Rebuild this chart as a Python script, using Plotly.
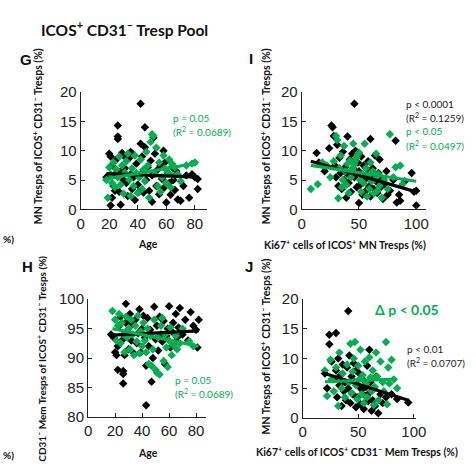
import plotly.graph_objects as go

W, H = 476, 471
GREEN = "#00b050"
BLACK = "#000000"

# ---------------- data ----------------
# Panel G: Age vs MN Tresps of ICOS+ CD31- Tresps (%)
g_black_x = [18,20,21,22,23,24,25,26,26,26,27,28,28,29,30,31,32,33,34,35,36,37,38,39,40,41,42,42,43,44,44,45,45,46,47,48,49,50,50,51,52,53,54,55,56,57,58,58,59,60,61,62,63,64,65,66,67,68,70,72,74,76,78,80,82,82,35,30,24,22,21]
g_black_y = [5.5,9.5,9.0,7.5,4.0,6.0,8.5,14.3,12.4,12.0,3.0,0.8,6.5,9.6,5.0,7.0,4.5,2.3,8.7,6.0,3.5,5.5,1.6,7.8,4.2,3.0,18.0,11.2,9.0,6.5,2.9,14.0,10.6,5.0,7.2,3.2,8.3,1.3,5.8,12.2,9.5,4.0,6.8,2.6,7.5,5.2,3.6,10.0,8.0,1.2,6.2,4.5,2.5,7.2,5.0,3.3,6.5,1.7,1.5,4.0,5.8,2.0,6.0,5.5,3.5,5.2,9.8,9.2,3.2,2.0,0.7]
g_green_x = [18,19,20,21,22,23,24,25,26,27,28,29,30,31,32,33,34,35,36,37,38,39,40,41,42,43,44,45,46,47,48,49,50,51,52,53,54,55,56,57,58,59,60,61,62,63,64,65,66,68,70,74,78,80]
g_green_y = [5.0,2.0,7.2,6.0,4.5,8.0,3.8,6.8,5.5,9.0,4.2,7.5,2.7,6.3,8.2,9.5,5.0,2.3,7.0,4.0,9.2,6.2,2.8,5.5,8.5,3.5,6.8,4.8,9.8,7.5,2.0,11.5,12.8,12.5,6.0,10.5,4.0,8.0,3.0,5.5,9.2,7.0,4.5,6.3,8.5,3.8,7.8,5.8,7.2,6.0,4.8,7.5,7.8,8.0]
g_fit_x = [18, 82]
g_fit_black_y = [6.1, 5.5]
g_fit_green_y = [5.2, 7.9]

# Panel I: Ki67+ cells of ICOS+ MN Tresps (%) vs MN Tresps (%)
i_black_x = [13,15,20,24,26,27,28,29,30,31,32,33,34,35,36,37,38,39,40,40,41,42,43,44,45,46,46,47,48,49,50,50,51,52,53,54,55,56,57,58,59,60,60,61,62,63,64,65,66,67,68,69,70,71,72,74,75,77,80,82,83,85,86,90,96,100,100,98]
i_black_y = [9.6,8.0,6.5,10.4,14.3,14.0,12.5,7.5,5.5,11.0,4.0,8.8,6.2,3.5,9.8,5.0,7.2,2.0,12.4,6.0,4.5,8.5,3.0,9.5,7.0,18.0,5.5,10.0,3.8,8.0,1.1,6.5,4.2,9.0,2.5,7.5,5.0,3.2,6.8,8.2,4.0,12.0,2.2,5.8,7.0,3.5,9.2,4.8,2.8,6.2,8.5,3.8,5.2,1.8,4.3,6.5,2.5,3.2,5.0,11.7,1.2,2.5,1.5,4.8,6.2,3.2,0.7,3.0]
i_green_x = [8,14,18,22,25,28,30,31,32,33,34,35,36,37,38,39,40,41,42,43,44,45,45,46,47,48,49,50,51,52,53,54,55,56,57,58,59,60,61,62,63,64,65,66,67,68,70,72,75,77,80,82,86,88]
i_green_y = [3.5,4.3,8.0,7.5,5.5,8.2,12.5,11.8,1.9,7.0,9.2,3.8,5.0,10.8,6.5,4.2,7.8,2.8,8.3,5.5,6.8,11.2,7.2,7.8,8.3,8.8,9.3,9.7,5.0,3.0,6.0,4.5,11.2,7.0,2.2,5.8,3.5,8.0,4.8,6.5,2.7,5.2,9.5,3.2,6.0,4.0,2.0,5.0,3.5,12.8,5.5,7.2,7.5,4.3]
i_fit_x = [8, 100]
i_fit_black_y = [8.2, 3.0]
i_fit_green_y = [7.5, 4.8]

# Panel H: Age vs Mem Tresps of ICOS+ CD31- Tresps (%)
h_black_x = [17,19,20,21,22,22,23,24,25,26,26,26,27,28,28,29,30,31,32,33,34,35,36,37,38,39,40,41,42,43,43,44,45,46,47,48,49,50,51,52,53,54,55,56,57,58,59,60,61,62,63,64,65,66,67,68,70,72,74,76,78,80,82,81]
h_black_y = [94.0,93.5,91.0,90.5,92.0,88.0,95.5,97.0,93.0,87.8,87.3,85.7,90.5,99.2,96.0,94.5,91.5,97.5,93.0,95.8,90.8,96.5,92.5,94.2,98.3,91.0,95.0,97.2,93.5,88.7,82.0,96.8,92.0,94.8,86.0,90.0,98.7,93.2,95.5,91.3,97.0,94.0,92.8,96.3,89.0,93.8,95.0,98.8,91.8,94.5,96.0,92.5,97.5,93.5,95.2,98.5,94.0,96.5,93.0,97.8,95.5,94.8,96.5,91.8]
h_green_x = [18,20,21,22,23,24,25,26,27,28,29,30,31,32,33,34,35,36,37,38,39,40,41,42,43,44,45,46,47,48,49,50,51,52,53,54,55,56,57,58,59,60,61,62,63,65,66,68,70,75,78]
h_green_y = [98.0,96.5,93.0,95.5,97.5,92.5,96.0,94.0,91.0,97.0,93.5,95.0,91.5,96.5,94.0,90.5,95.5,92.8,97.2,90.8,94.5,92.0,96.0,93.0,91.0,95.0,89.0,93.8,88.7,91.5,96.5,88.0,87.5,93.5,87.2,95.5,96.8,89.5,94.0,91.8,88.5,93.0,95.2,90.5,92.2,93.8,91.5,92.5,95.0,92.8,92.0]
h_fit_x = [18, 82]
h_fit_black_y = [93.9, 94.6]
h_fit_green_y = [95.0, 92.0]

# Panel J: Ki67+ cells of ICOS+ CD31- Mem Tresps (%) vs MN Tresps (%)
j_black_x = [20,22,24,24,26,28,30,30,31,32,33,34,35,36,37,38,39,40,41,41,42,43,44,45,46,47,48,48,49,50,51,52,53,54,55,56,57,58,59,60,60,61,62,63,64,65,66,68,70,72,75,80,85,95]
j_black_y = [7.5,5.0,12.4,14.0,9.5,6.5,14.3,8.0,3.5,10.0,5.5,7.2,2.0,9.0,4.5,6.0,3.0,8.5,18.0,5.0,10.5,2.5,7.0,4.0,9.2,6.0,1.8,8.0,3.5,5.5,7.5,2.3,4.8,6.5,1.5,3.8,5.2,8.8,2.8,11.5,4.2,6.0,1.2,3.0,5.0,2.0,7.0,0.8,4.0,2.5,3.5,4.0,3.2,2.6]
j_green_x = [20,22,25,26,28,30,32,33,35,36,38,40,42,43,44,45,46,47,48,49,50,51,52,53,54,55,56,57,58,60,61,62,63,64,65,66,67,68,70,72,73,75,76,77,78,80,82,85]
j_green_y = [8.0,3.7,9.8,6.5,4.5,8.5,2.0,11.0,5.0,7.5,3.5,9.0,6.0,12.5,4.2,7.8,10.0,12.8,5.5,3.2,8.8,6.5,11.5,4.0,7.2,2.5,9.5,5.8,3.5,10.2,6.8,4.5,8.0,2.2,5.2,11.0,7.0,3.0,9.5,6.0,4.5,12.8,2.3,8.5,5.8,9.8,6.5,5.0]
j_fit_black_x = [18, 95]
j_fit_black_y = [7.6, 3.0]
j_fit_green_x = [20, 80]
j_fit_green_y = [6.1, 6.5]

# ---------------- figure ----------------
fig = go.Figure()

def px_x(v):
    return v / W

def px_y(v):
    return 1 - v / H

panels = [
    ("x", "y", g_black_x, g_black_y, g_green_x, g_green_y,
     (g_fit_x, g_fit_black_y), (g_fit_x, g_fit_green_y)),
    ("x2", "y2", i_black_x, i_black_y, i_green_x, i_green_y,
     (i_fit_x, i_fit_black_y), (i_fit_x, i_fit_green_y)),
    ("x3", "y3", h_black_x, h_black_y, h_green_x, h_green_y,
     (h_fit_x, h_fit_black_y), (h_fit_x, h_fit_green_y)),
    ("x4", "y4", j_black_x, j_black_y, j_green_x, j_green_y,
     (j_fit_black_x, j_fit_black_y), (j_fit_green_x, j_fit_green_y)),
]

for xa, ya, bx, by, gx, gy, fb, fg in panels:
    fig.add_trace(go.Scatter(x=bx, y=by, mode="markers", xaxis=xa, yaxis=ya,
                             marker=dict(symbol="diamond", size=6.5, color=BLACK),
                             showlegend=False, hoverinfo="skip"))
    fig.add_trace(go.Scatter(x=gx, y=gy, mode="markers", xaxis=xa, yaxis=ya,
                             marker=dict(symbol="diamond", size=6.5, color=GREEN),
                             showlegend=False, hoverinfo="skip"))
    fig.add_trace(go.Scatter(x=fb[0], y=fb[1], mode="lines", xaxis=xa, yaxis=ya,
                             line=dict(color=BLACK, width=3.2),
                             showlegend=False, hoverinfo="skip"))
    fig.add_trace(go.Scatter(x=fg[0], y=fg[1], mode="lines", xaxis=xa, yaxis=ya,
                             line=dict(color=GREEN, width=3.2),
                             showlegend=False, hoverinfo="skip"))

tickfont = dict(family="Liberation Sans, Arial", size=15, color="#222222")
axcommon = dict(showgrid=False, zeroline=False, showline=True, linecolor="#222222",
                linewidth=1.2, ticks="inside", ticklen=4, tickcolor="#222222",
                tickfont=tickfont)

fig.update_layout(
    width=W, height=H, margin=dict(l=0, r=0, t=0, b=0),
    paper_bgcolor="white", plot_bgcolor="white",
    xaxis=dict(domain=[px_x(79), px_x(209)], range=[0, 88.4], dtick=20, anchor="y", **axcommon),
    yaxis=dict(domain=[px_y(208), px_y(86)], range=[0, 20], dtick=5, anchor="x", **axcommon),
    xaxis2=dict(domain=[px_x(306.7), px_x(435)], range=[0, 108.7], dtick=50, anchor="y2", **axcommon),
    yaxis2=dict(domain=[px_y(208), px_y(86)], range=[0, 20], dtick=5, anchor="x2", **axcommon),
    xaxis3=dict(domain=[px_x(86.7), px_x(208)], range=[0, 87.3], dtick=20, anchor="y3", **axcommon),
    yaxis3=dict(domain=[px_y(423.3), px_y(301)], range=[80, 100], dtick=5, anchor="x3", **axcommon),
    xaxis4=dict(domain=[px_x(307.7), px_x(424.3)], range=[0, 101.8], dtick=50, anchor="y4", **axcommon),
    yaxis4=dict(domain=[px_y(424.3), px_y(301)], range=[0, 20], dtick=5, anchor="x4", **axcommon),
)

TXT = "Lato, Open Sans, sans-serif"
ann = []

def add(text, x, y, size=11, color="#111111", xanchor="center", yanchor="middle", angle=0, bold=False):
    if bold:
        text = "<b>" + text + "</b>"
    ann.append(dict(text=text, x=px_x(x), y=px_y(y), xref="paper", yref="paper",
                    xanchor=xanchor, yanchor=yanchor, showarrow=False, textangle=angle,
                    borderpad=0, font=dict(family=TXT, size=size, color=color)))

# title
add("ICOS<sup>+</sup> CD31<sup>–</sup> Tresp Pool", 124, 20, size=15.5, bold=True)
# panel letters
for letter, x, y in [("G", 23, 52), ("I", 254.5, 51), ("H", 24, 267), ("J", 252, 267)]:
    ann.append(dict(text="<b>" + letter + "</b>", x=px_x(x), y=px_y(y), xref="paper", yref="paper",
                    showarrow=False, xanchor="center", yanchor="middle",
                    font=dict(family="Liberation Sans, Arial", size=15, color="#111111")))

ytitle = "MN Tresps of ICOS<sup>+</sup> CD31<sup>–</sup> Tresps (%)"
add(ytitle, 34, 132, size=10.5, angle=-90, bold=True)
add(ytitle, 269, 132, size=10.5, angle=-90, bold=True)
add(ytitle, 269, 350, size=10.5, angle=-90, bold=True)
add("CD31<sup>–</sup> Mem Tresps of ICOS<sup>+</sup> CD31<sup>–</sup> Tresps (%)", 39, 255,
    size=10, angle=-90, bold=True, yanchor="top")

# x titles
add("Age", 148, 244, size=10.5, bold=True)
add("Age", 148, 461, size=10.5, bold=True)
add("Ki67<sup>+</sup> cells of ICOS<sup>+</sup> MN Tresps (%)", 351, 244, size=10.5, bold=True)
add("Ki67<sup>+</sup> cells of ICOS<sup>+</sup> CD31<sup>–</sup> Mem Tresps (%)", 364, 459, size=10.5, bold=True)

# left-edge cut-off remnants
add("%)", -2, 239, size=10, bold=True, xanchor="left")
add("%)", -2, 463, size=10, bold=True, xanchor="left")

# stats annotations
add("p = 0.05", 173, 113, size=10, color=GREEN, xanchor="left")
add("(R<sup>2</sup> = 0.0689)", 173, 127, size=10, color=GREEN, xanchor="left")

add("p < 0.0001", 413, 99, size=10, color="#222222", xanchor="left")
add("(R<sup>2</sup> = 0.1259)", 413, 113, size=10, color="#222222", xanchor="left")
add("p < 0.05", 413, 127, size=10, color=GREEN, xanchor="left")
add("(R<sup>2</sup> = 0.0497)", 413, 142, size=10, color=GREEN, xanchor="left")

add("p = 0.05", 175, 385, size=10, color=GREEN, xanchor="left")
add("(R<sup>2</sup> = 0.0689)", 175, 399, size=10, color=GREEN, xanchor="left")

add("Δ p < 0.05", 381, 312, size=14, color=GREEN, xanchor="left", bold=True)
add("p < 0.01", 414, 353, size=10, color="#222222", xanchor="left")
add("(R<sup>2</sup> = 0.0707)", 414, 367, size=10, color="#222222", xanchor="left")

fig.update_layout(annotations=ann)

POST = (
    "var s=document.createElement('style');"
    "s.innerHTML='html,body{margin:0 !important;padding:0 !important;overflow:hidden !important;"
    "width:476px;height:471px;}';"
    "document.head.appendChild(s);"
    "var gd=document.querySelector('.plotly-graph-div');"
    "if(gd&&gd.parentNode){gd.parentNode.style.height='471px';gd.parentNode.style.overflow='hidden';"
    "gd.parentNode.style.margin='0';}"
)
fig.write_html("out.html", config={"displayModeBar": False}, post_script=POST)
